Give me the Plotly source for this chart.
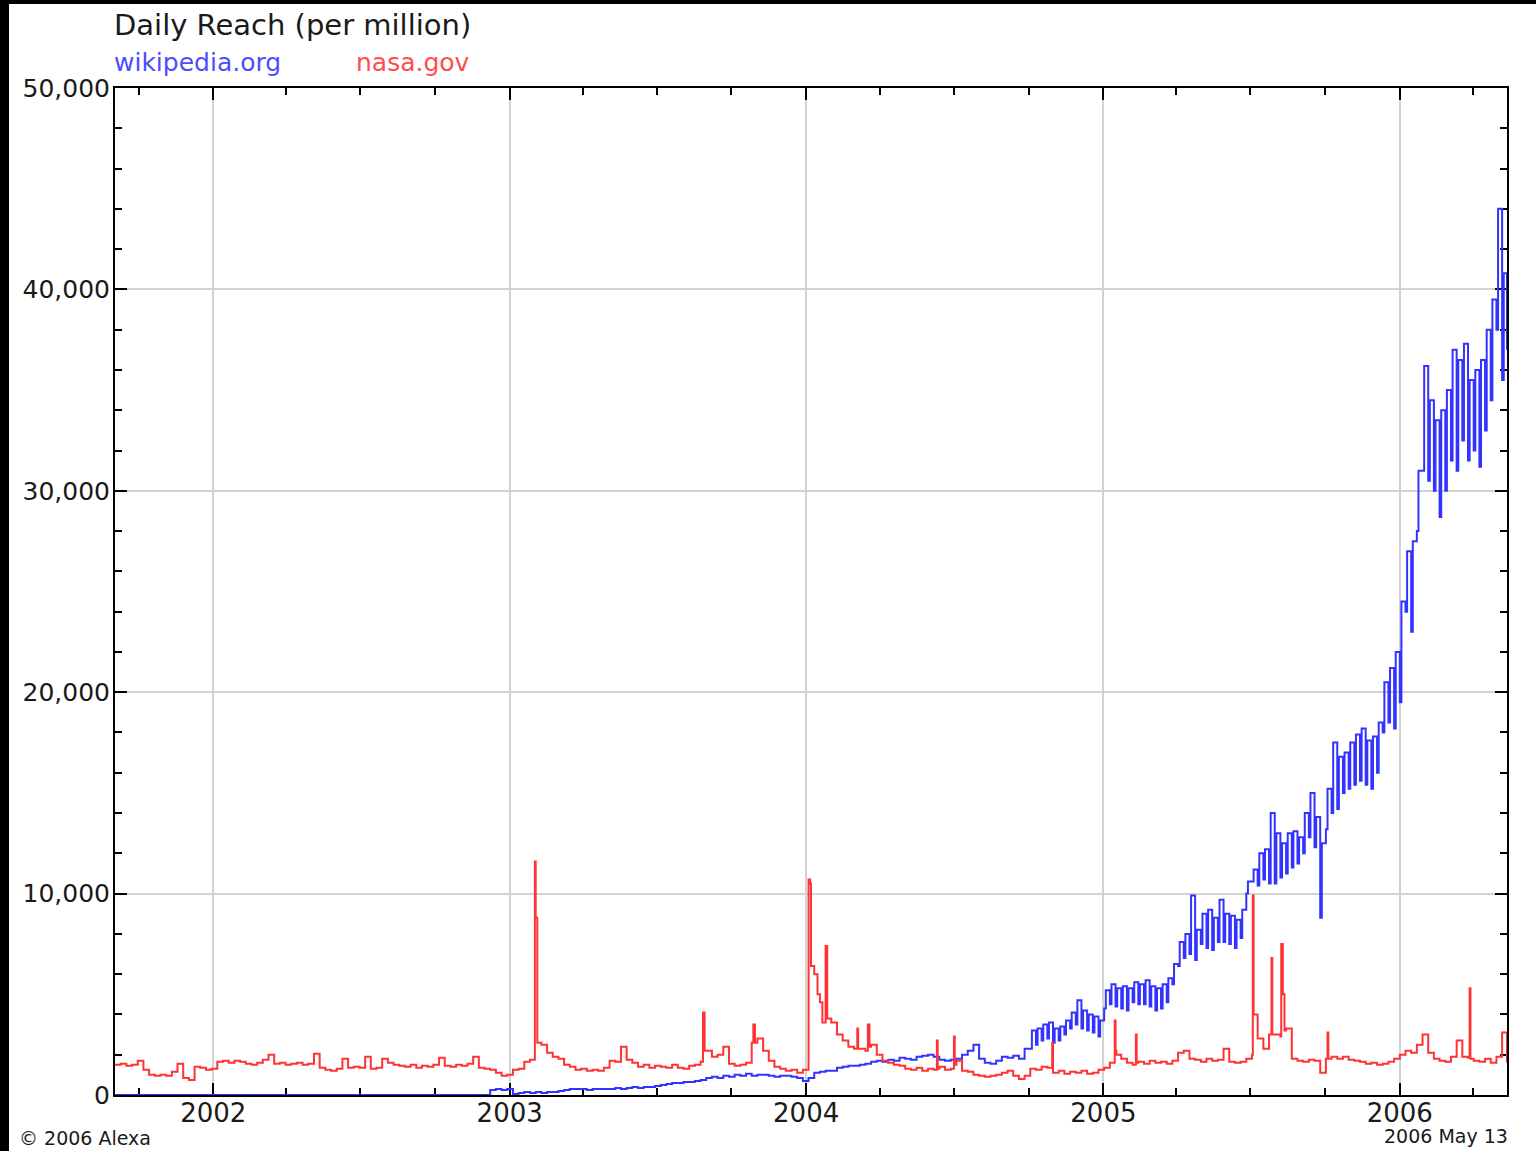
import pandas as pd
import plotly.graph_objects as go

# ---------------- data ----------------
# weekly sample dates (Sundays) from the start of the chart
week_dates = pd.date_range("2001-09-02", periods=245, freq="7D")

# nasa.gov weekly level (daily reach per million)
nasa_weekly = [
    1500, 1550, 1450, 1500, 1700, 1250, 1000, 950, 1000, 950,
    1150, 1550, 850, 750, 1400, 1350, 1250, 1300, 1650, 1700,
    1600, 1700, 1650, 1550, 1500, 1600, 1750, 2000, 1550, 1600,
    1500, 1550, 1600, 1500, 1550, 2050, 1350, 1250, 1200, 1300,
    1800, 1350, 1400, 1350, 1900, 1300, 1350, 1800, 1600, 1500,
    1450, 1400, 1500, 1350, 1450, 1400, 1500, 1850, 1450, 1400,
    1500, 1450, 1550, 1900, 1350, 1300, 1250, 1100, 950, 1000,
    1250, 1300, 1650, 1750, 2300, 2500, 2100, 1900, 1800, 1500,
    1400, 1250, 1300, 1200, 1250, 1200, 1350, 1700, 1650, 2400,
    1750, 1600, 1400, 1500, 1350, 1450, 1400, 1350, 1500, 1350,
    1300, 1450, 1500, 1650, 2200, 1900, 2000, 2400, 1550, 1450,
    1500, 1600, 2600, 2800, 2200, 1700, 1400, 1300, 1200, 1250,
    1100, 1250, 1300, 6000, 4600, 4000, 3600, 3000, 2700, 2400,
    2300, 2300, 2200, 2500, 2000, 1700, 1600, 1500, 1450, 1300,
    1250, 1350, 1200, 1300, 1250, 1400, 1250, 1300, 1700, 1200,
    1150, 1000, 950, 900, 950, 1000, 1100, 1200, 950, 800,
    950, 1300, 1250, 1400, 1350, 1100, 1200, 1050, 1150, 1100,
    1200, 1050, 1100, 1250, 1350, 1600, 2200, 1800, 1600, 1500,
    1650, 1550, 1700, 1600, 1650, 1550, 1700, 2100, 2200, 1800,
    1750, 1650, 1800, 1700, 1750, 2300, 1650, 1600, 1650, 1800,
    2000, 2800, 2300, 3000, 3000, 2900, 3300, 1800, 1700, 1650,
    1750, 1700, 1100, 1800, 1900, 1800, 1900, 1750, 1700, 1650,
    1550, 1600, 1500, 1550, 1650, 1800, 2000, 2200, 2100, 2500,
    3000, 2100, 1800, 1700, 1650, 1900, 2700, 1900, 1850, 1700,
    1650, 1800, 1600, 1900, 3100,
]

# nasa.gov single-day readings around news events
nasa_event_dates = [
    "2003-02-01", "2003-02-02", "2003-02-04",
    "2003-08-27", "2003-08-29",
    "2003-10-28", "2003-10-30",
    "2004-01-04", "2004-01-06", "2004-01-07", "2004-01-15", "2004-01-21",
    "2004-01-25", "2004-01-27",
    "2004-03-04", "2004-03-05", "2004-03-17", "2004-03-19",
    "2004-06-10", "2004-06-11", "2004-07-01", "2004-07-02",
    "2004-10-30",
    "2005-01-15", "2005-01-17", "2005-02-10", "2005-02-11",
    "2005-07-04", "2005-07-05",
    "2005-07-27", "2005-07-28",
    "2005-08-08", "2005-08-10", "2005-08-12",
    "2005-10-04", "2005-10-05",
    "2006-03-28", "2006-03-29",
    "2006-05-13",
]
nasa_event_vals = [
    11600, 8800, 2600,
    4100, 2200,
    3500, 2600,
    10700, 10500, 6400, 5000, 3600,
    7400, 3800,
    3300, 2300, 3500, 2400,
    2700, 1300, 2900, 1500,
    2600,
    3700, 2000, 3000, 1600,
    9900, 4000,
    6800, 3000,
    7500, 5000, 3200,
    3100, 1800,
    5300, 1800,
    1600,
]

# wikipedia.org weekly level, first 161 weeks
wiki_weekly = [
    0, 0, 0, 0, 0, 0, 0, 0, 0, 0,
    0, 0, 0, 0, 0, 0, 0, 0, 0, 0,
    0, 0, 0, 0, 0, 0, 0, 0, 0, 0,
    0, 0, 0, 0, 0, 0, 0, 0, 0, 0,
    0, 0, 0, 0, 0, 0, 0, 0, 0, 0,
    0, 0, 0, 0, 0, 0, 0, 0, 0, 0,
    0, 0, 0, 0, 0,
    0, 250, 300, 250, 300,
    50, 100, 150, 100, 150, 100, 150, 150, 200, 250,
    300, 300, 300, 250, 300, 300, 300, 300, 350, 300,
    350, 400, 350, 400, 400, 450, 500, 550, 600, 600,
    650, 650, 700, 750, 850, 900, 850, 950, 900, 1000,
    950, 1050, 950, 1000, 1000, 950, 900, 950, 950, 900,
    850, 700, 850, 1100, 1150, 1200, 1200, 1350, 1400, 1450,
    1450, 1500, 1550, 1650, 1700, 1650, 1750, 1700, 1850, 1800,
    1750, 1900, 1950, 2000, 1900, 1750, 1700, 1750, 1800, 2000,
    2200, 2500, 1800, 1600, 1550, 1700, 1900, 1850, 1950, 1800, 2300,
]

# wikipedia.org from week 161 on: weekday level and weekend dip
wiki_hi = [
    3200, 3300, 3500, 3600, 3300, 3400, 3700, 4100, 4700, 4200,
    4000, 3900, 3700, 5200, 5500, 5300, 5400, 5300, 5600, 5500,
    5700, 5400, 5300, 5500, 5800, 6500, 7600, 8000, 9900, 8200,
    9000, 9200, 8800, 9700, 9000, 8900, 8700, 9200, 10600, 11200,
    12000, 12200, 14000, 13000, 12500, 13000, 13100, 12800, 14000, 15000,
    13800, 12500, 15200, 17500, 16800, 17000, 17500, 17900, 18200, 17600,
    17800, 18500, 20500, 21200, 22000, 24500, 27000, 27500, 31000, 36200,
    34500, 33500, 34000, 35000, 37000, 36500, 37300, 35500, 36000, 36500,
    38000, 39500, 44000, 40800,
]
wiki_lo = [
    2300, 2500, 2700, 2800, 2600, 2700, 3000, 3300, 3500, 3300,
    3200, 3100, 2900, 4300, 4500, 4400, 4300, 4200, 4600, 4500,
    4500, 4400, 4200, 4300, 4600, 5500, 6400, 6800, 7000, 6700,
    7500, 7300, 7200, 7600, 7600, 7500, 7300, 7800, 10000, 10600,
    10400, 10700, 10500, 10500, 10800, 11000, 11300, 11500, 12000, 12800,
    12300, 8800, 13200, 14000, 14200, 15000, 15200, 15400, 15600, 15400,
    15200, 16000, 18000, 18500, 18200, 19500, 24000, 23000, 28000, 31000,
    30500, 30000, 28700, 30000, 31500, 31000, 32500, 31500, 32000, 31200,
    33000, 34500, 38000, 35500,
]
wiki_last_date = "2006-05-13"
wiki_last_val = 37000

y_ticks = [0, 10000, 20000, 30000, 40000, 50000]

# ---------------- build series ----------------
nasa = pd.Series(nasa_event_vals, index=pd.to_datetime(nasa_event_dates)).combine_first(
    pd.Series(nasa_weekly, index=week_dates)
).sort_index()

n_single = len(wiki_weekly)
wiki_x = list(week_dates[:n_single])
wiki_y = list(wiki_weekly)
for d, lo, hi in zip(week_dates[n_single:], wiki_lo, wiki_hi):
    wiki_x += [d, d + pd.Timedelta(days=2)]
    wiki_y += [lo, hi]
wiki_x.append(pd.Timestamp(wiki_last_date))
wiki_y.append(wiki_last_val)

BLUE = "#3333ff"
RED = "#ff3333"
FONT = "DejaVu Sans"

fig = go.Figure()
fig.add_trace(go.Scatter(x=wiki_x, y=wiki_y, mode="lines", line=dict(color=BLUE, width=2, shape="hv"),
                         name="wikipedia.org", showlegend=False))
fig.add_trace(go.Scatter(x=nasa.index, y=nasa.values, mode="lines", line=dict(color=RED, width=2, shape="hv"),
                         name="nasa.gov", showlegend=False))

W, H = 1536, 1151
L, R, T, B = 115, 29, 88, 56
pw, ph = W - L - R, H - T - B


def px(xp):
    return (xp - L) / pw


def py(yp):
    return (H - B - yp) / ph


fig.update_layout(
    width=W, height=H,
    margin=dict(l=L, r=R, t=T, b=B, pad=0),
    paper_bgcolor="#000000",
    plot_bgcolor="#ffffff",
    font=dict(family=FONT, color="#1a1a1a"),
    shapes=[dict(type="rect", xref="paper", yref="paper", layer="below",
                 x0=px(9), x1=px(W + 5), y0=py(H + 5), y1=py(4),
                 fillcolor="#ffffff", line=dict(width=0))],
    annotations=[
        dict(text="Daily Reach (per million)", xref="paper", yref="paper", x=px(112), y=py(25),
             xanchor="left", yanchor="middle", showarrow=False, font=dict(size=29, color="#1a1a1a")),
        dict(text="wikipedia.org", xref="paper", yref="paper", x=px(112), y=py(63),
             xanchor="left", yanchor="middle", showarrow=False, font=dict(size=25, color="#4d4dff")),
        dict(text="nasa.gov", xref="paper", yref="paper", x=px(354), y=py(63),
             xanchor="left", yanchor="middle", showarrow=False, font=dict(size=25, color="#ff4d4d")),
        dict(text="© 2006 Alexa", xref="paper", yref="paper", x=px(17), y=py(1138),
             xanchor="left", yanchor="middle", showarrow=False, font=dict(size=19, color="#1a1a1a")),
        dict(text="2006 May 13", xref="paper", yref="paper", x=px(1510), y=py(1136),
             xanchor="right", yanchor="middle", showarrow=False, font=dict(size=19, color="#1a1a1a")),
    ],
)

fig.update_xaxes(
    type="date", range=["2001-09-02", "2006-05-13"],
    tick0="2002-01-01", dtick="M12", tickformat="%Y",
    ticks="inside", ticklen=12, tickwidth=2, tickcolor="#000",
    showline=True, linecolor="#000", linewidth=2, mirror="allticks",
    showgrid=True, gridcolor="#d3d3d3", gridwidth=2, zeroline=False,
    tickfont=dict(family=FONT, size=26, color="#1a1a1a"), ticklabelstandoff=-6,
    minor=dict(tick0="2002-01-01", dtick="M3", ticks="inside", ticklen=7, tickwidth=2,
               tickcolor="#000", showgrid=False),
    layer="below traces",
)
fig.update_yaxes(
    range=[0, 50000], tickvals=y_ticks, tickformat=",d",
    ticks="inside", ticklen=12, tickwidth=2, tickcolor="#000",
    showline=True, linecolor="#000", linewidth=2, mirror="allticks",
    showgrid=True, gridcolor="#d3d3d3", gridwidth=2, zeroline=False,
    tickfont=dict(family=FONT, size=25, color="#1a1a1a"), ticklabelstandoff=-2,
    minor=dict(dtick=2000, ticks="inside", ticklen=7, tickwidth=2, tickcolor="#000", showgrid=False),
    layer="below traces",
)

fig.write_html(
    "out.html",
    config={"displayModeBar": False},
    post_script="document.body.style.margin='0px';document.body.style.padding='0px';"
                "document.documentElement.style.overflow='hidden';",
)
